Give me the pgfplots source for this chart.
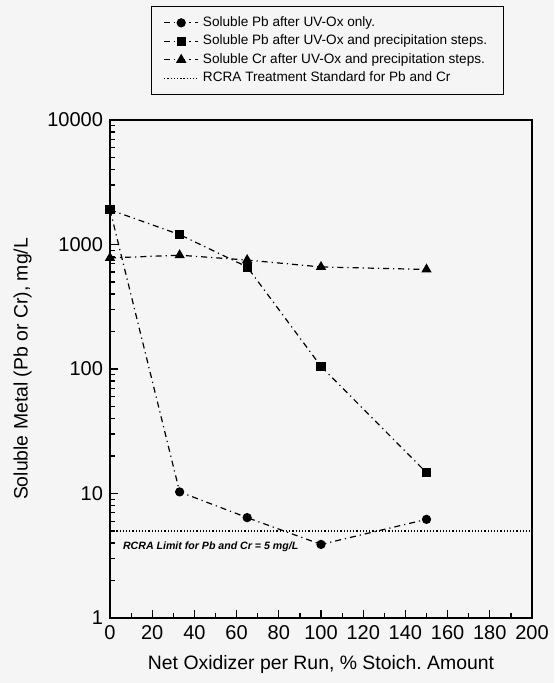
\documentclass[border=0pt]{standalone}
\usepackage{fontspec}
\setmainfont{Liberation Sans}
\usepackage{pgfplots}
\pgfplotsset{compat=1.18}
\definecolor{Paper}{HTML}{F5F5F5}
\begin{document}
\begin{tikzpicture}
\fill[Paper] (-55pt,-32.5pt) rectangle (222pt,309pt);
\path[use as bounding box] (-55pt,-32.5pt) rectangle (222pt,309pt);
\begin{axis}[
  at={(0,0)}, anchor=south west,
  scale only axis,
  width=211pt, height=249pt,
  ymode=log,
  xmin=0, xmax=200, ymin=1, ymax=10000,
  xtick={0,20,...,200},
  minor x tick num=1,
  ytick={1,10,100,1000,10000},
  yticklabels={1,10,100,1000,10000},
  xtick pos=bottom, ytick pos=left,
  tick align=inside,
  major tick length=4pt, minor tick length=2.5pt,
  tick style={black, line width=0.6pt},
  axis line style={line width=0.8pt},
  /pgf/number format/assume math mode=true,
  ticklabel style={font=\fontsize{10}{11}\selectfont},
  xlabel={Net Oxidizer per Run, \% Stoich.\ Amount},
  ylabel={Soluble Metal (Pb or Cr), mg/L},
  label style={font=\fontsize{9.7}{11}\selectfont},
  xlabel style={yshift=-1pt},
  ylabel style={yshift=1pt},
  legend style={at={(0.097,1.229)}, anchor=north west, draw=black,
    line width=0.5pt, fill=Paper,
    font=\fontsize{6.8}{8}\selectfont, inner xsep=6pt, inner ysep=3pt,
    row sep=-1.2pt},
  legend cell align=left,
  every axis plot/.append style={black, line width=0.6pt},
]
\addplot[dash dot, mark=*, mark size=2pt, mark options={solid}]
  coordinates {(0,1900) (33,10.3) (65,6.4) (100,3.9) (150,6.2)};
\addlegendentry{Soluble Pb after UV-Ox only.}
\addplot[dash dot, mark=square*, mark size=2pt, mark options={solid}]
  coordinates {(0,1900) (33,1200) (65,660) (100,105) (150,14.7)};
\addlegendentry{Soluble Pb after UV-Ox and precipitation steps.}
\addplot[dash dot, mark=triangle*, mark size=2.4pt, mark options={solid}]
  coordinates {(0,780) (33,820) (65,750) (100,660) (150,630)};
\addlegendentry{Soluble Cr after UV-Ox and precipitation steps.}
\addplot[densely dotted, line width=0.7pt]
  coordinates {(0,5) (200,5)};
\addlegendentry{RCRA Treatment Standard for Pb and Cr}
\node[anchor=west, font=\fontsize{5.3}{6}\selectfont\bfseries\itshape, inner sep=0pt]
  at (axis cs:6,3.7) {RCRA Limit for Pb and Cr = 5 mg/L};
\end{axis}
\end{tikzpicture}
\end{document}
